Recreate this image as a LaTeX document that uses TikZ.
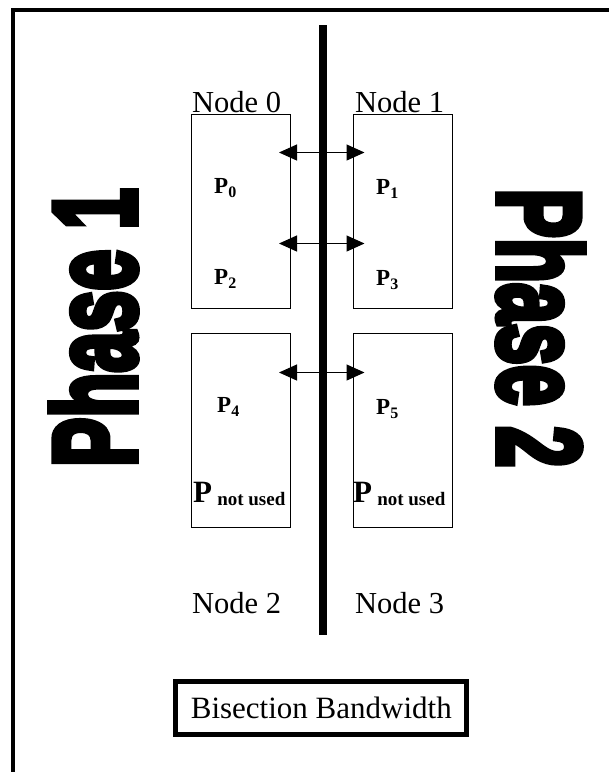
\documentclass[tikz,border=0pt]{standalone}
\usepackage{fontspec}
\setmainfont{Liberation Serif}
\newfontfamily\phasefont[FakeBold=6]{Liberation Sans Bold}
\usetikzlibrary{arrows.meta}
\tikzset{
  nodebox/.style={draw, line width=1pt, minimum width=99pt, minimum height=194pt, inner sep=0pt, anchor=north west},
  nodelabel/.style={anchor=base west, inner sep=0pt, font=\fontsize{30.5}{30.5}\selectfont},
  plabel/.style={anchor=base west, inner sep=0pt, font=\fontsize{23}{23}\selectfont\bfseries},
  link/.style={line width=1.2pt, {Triangle[length=18pt,width=16pt]}-{Triangle[length=18pt,width=16pt]}},
  phase/.style={inner sep=0pt, font=\phasefont\fontsize{117}{117}\selectfont},
}
\newcommand{\psub}[1]{\raisebox{-4pt}{\fontsize{16}{16}\selectfont #1}}
\begin{document}
\begin{tikzpicture}[x=1pt,y=-1pt]
\useasboundingbox (0,0) rectangle (609,772);
\begin{scope}
\clip (0,0) rectangle (609,772);
\draw[line width=4pt] (13,10) rectangle (640,800);
\end{scope}
% bisection bar
\coordinate (bartop) at (323,25);
\coordinate (barbot) at (323,635);
\draw[line width=8pt] (bartop) -- (barbot);
% node boxes
\node[nodebox] (n0) at (191,114) {};
\node[nodebox] (n1) at (352.5,114) {};
\node[nodebox] (n2) at (191,333) {};
\node[nodebox] (n3) at (352.5,333) {};
% node labels
\node[nodelabel] (l0) at (192,112) {Node 0};
\node[nodelabel] (l1) at (355,112) {Node 1};
\node[nodelabel] (l2) at (192,613) {Node 2};
\node[nodelabel] (l3) at (355,613) {Node 3};
% processors
\node[plabel] (p0) at (214,193) {P\psub{0}};
\node[plabel] (p1) at (376,194) {P\psub{1}};
\node[plabel] (p2) at (214,284) {P\psub{2}};
\node[plabel] (p3) at (376,285) {P\psub{3}};
\node[plabel] (p4) at (217,412) {P\psub{4}};
\node[plabel] (p5) at (376,414) {P\psub{5}};
\node[plabel, font=\fontsize{31}{31}\selectfont\bfseries] (pa) at (193,502) {P\,\raisebox{-3pt}{\fontsize{19}{19}\selectfont not used}};
\node[plabel, font=\fontsize{31}{31}\selectfont\bfseries] (pb) at (353,502) {P\,\raisebox{-3pt}{\fontsize{19}{19}\selectfont not used}};
% links
\coordinate (a0) at (279,152.5);
\coordinate (b0) at (364.5,152.5);
\coordinate (a1) at (279,243.5);
\coordinate (b1) at (364.5,243.5);
\coordinate (a2) at (279,372.5);
\coordinate (b2) at (364.5,372.5);
\draw[link] (a0) -- (b0);
\draw[link] (a1) -- (b1);
\draw[link] (a2) -- (b2);
% phases
\node[phase, rotate=90] (ph1) at (93.5,327.5) {\scalebox{0.63}[1]{Phase 1}};
\node[phase, rotate=-90] (ph2) at (540.5,328) {\scalebox{0.63}[1]{Phase 2}};
% bisection bandwidth
\node[draw, line width=5pt, minimum width=291pt, minimum height=53pt, inner sep=0pt, font=\fontsize{31}{31}\selectfont] (bb) at (321.3,708) {Bisection Bandwidth};
\end{tikzpicture}
\end{document}
